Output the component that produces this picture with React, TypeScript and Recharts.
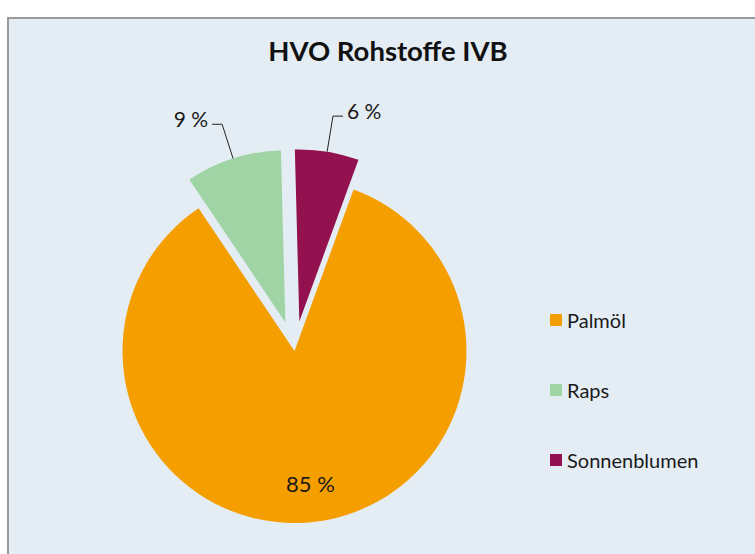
import { Legend, Pie, PieChart, Sector } from "recharts";

const categories = ["Palmöl", "Raps", "Sonnenblumen"];
const shares = [85, 9, 6];

const COLORS = ["#f59e00", "#a1d4a5", "#93114f"];
const EXPLODE = [0, 30, 30];
const RAD = Math.PI / 180;
const FONT = "Lato, 'Open Sans', sans-serif";

const data = categories.map((name, i) => ({
  name,
  value: shares[i],
  fill: COLORS[i],
}));

function offsetFor(index: number, midAngle: number) {
  const d = EXPLODE[index] || 0;
  return { dx: d * Math.cos(-midAngle * RAD), dy: d * Math.sin(-midAngle * RAD) };
}

const ExplodedSector = (props: any) => {
  const { dx, dy } = offsetFor(props.index, props.midAngle);
  return <Sector {...props} cx={props.cx + dx} cy={props.cy + dy} stroke="none" />;
};

const renderLabel = (props: any) => {
  const { cx, cy, midAngle, outerRadius, index, value } = props;
  const cos = Math.cos(-midAngle * RAD);
  const sin = Math.sin(-midAngle * RAD);
  const text = `${value} %`;

  if (!EXPLODE[index]) {
    const r = outerRadius * 0.775;
    return (
      <text
        x={cx + r * cos}
        y={cy + r * sin}
        textAnchor="middle"
        dominantBaseline="central"
        fontSize={22}
        fontFamily={FONT}
        fill="#1a1a1a"
      >
        {text}
      </text>
    );
  }

  const { dx, dy } = offsetFor(index, midAngle);
  const ex = cx + dx;
  const ey = cy + dy;
  const sx = ex + outerRadius * cos;
  const sy = ey + outerRadius * sin;
  const mx = ex + (outerRadius + 36) * cos;
  const my = ey + (outerRadius + 36) * sin;
  const side = cos >= 0 ? 1 : -1;
  const hx = mx + side * 10;

  return (
    <g>
      <polyline
        points={`${sx},${sy} ${mx},${my} ${hx},${my}`}
        fill="none"
        stroke="#222"
        strokeWidth={1}
      />
      <text
        x={hx + side * 4}
        y={my - 6}
        textAnchor={side > 0 ? "start" : "end"}
        dominantBaseline="central"
        fontSize={21}
        fontFamily={FONT}
        fill="#1a1a1a"
      >
        {text}
      </text>
    </g>
  );
};

const LegendContent = () => (
  <div style={{ fontFamily: FONT, fontSize: 20, color: "#1a1a1a" }}>
    {categories.map((name, i) => (
      <div
        key={name}
        style={{ display: "flex", alignItems: "center", height: 70 }}
      >
        <span
          style={{
            display: "inline-block",
            width: 12,
            height: 12,
            background: COLORS[i],
            marginRight: 5,
          }}
        />
        <span>{name}</span>
      </div>
    ))}
  </div>
);

export default function App() {
  return (
    <div
      style={{
        position: "absolute",
        left: 0,
        top: 0,
        width: 755,
        height: 554,
        overflow: "hidden",
        background: "#ffffff",
      }}
    >
      <div
        style={{
          position: "absolute",
          left: 7,
          top: 17,
          width: 758,
          height: 545,
          border: "2px solid #9a9a9a",
          background: "#e5edf4",
        }}
      >
        <div
          style={{
            position: "absolute",
            top: 15,
            left: 0,
            width: "100%",
            textAlign: "center",
            fontFamily: FONT,
            fontWeight: 700,
            fontSize: 27.5,
            color: "#111",
          }}
        >
          HVO Rohstoffe IVB
        </div>
        <PieChart width={758} height={545}>
          <Pie
            data={data}
            dataKey="value"
            nameKey="name"
            cx={280.5}
            cy={327}
            outerRadius={172}
            startAngle={69.9}
            endAngle={-290.1}
            stroke="none"
            shape={ExplodedSector}
            activeShape={ExplodedSector}
            label={renderLabel}
            labelLine={false}
            isAnimationActive={false}
          />
          <Legend
            layout="vertical"
            content={<LegendContent />}
            wrapperStyle={{ left: 541, top: 266, width: 200 }}
          />
        </PieChart>
      </div>
    </div>
  );
}
